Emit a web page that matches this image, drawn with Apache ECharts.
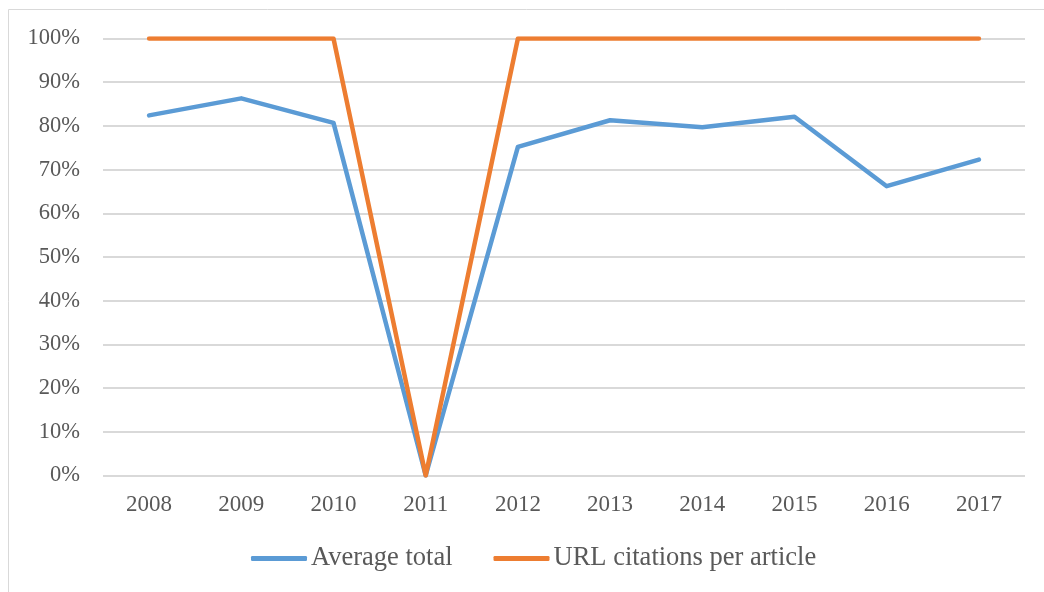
<!DOCTYPE html>
<html>
<head>
<meta charset="utf-8">
<script src="https://cdn.jsdelivr.net/npm/echarts@6/dist/echarts.min.js"></script>
<style>
  html, body { margin: 0; padding: 0; background: #fff; }
  #chart { width: 1044px; height: 592px; }
</style>
</head>
<body>
<div id="chart"></div>
<script>
// data
var years = ["2008", "2009", "2010", "2011", "2012", "2013", "2014", "2015", "2016", "2017"];
var averageTotal = [82.4, 86.3, 80.7, 0, 75.2, 81.3, 79.7, 82.1, 66.2, 72.3];
var urlCitations = [100, 100, 100, 0, 100, 100, 100, 100, 100, 100];

var textColor = "#595959";
var font = "Liberation Serif";

var chart = echarts.init(document.getElementById("chart"));
chart.setOption({
  animation: false,
  textStyle: { fontFamily: font },
  graphic: [
    {
      type: "rect",
      shape: { x: 8.5, y: 9.5, width: 1100, height: 700 },
      style: { fill: "none", stroke: "#d9d9d9", lineWidth: 1 },
      silent: true
    }
  ],
  grid: {
    left: 103,
    right: 19,
    top: 38.5,
    bottom: 116.5,
    containLabel: false
  },
  legend: {
    top: 540,
    left: 246,
    itemWidth: 56,
    itemHeight: 5,
    itemGap: 41,
    icon: "roundRect",
    textStyle: { color: textColor, fontSize: 26.5, fontFamily: font, padding: [0, 0, 0, -1] },
    data: ["Average total", "URL citations per article"]
  },
  xAxis: {
    type: "category",
    data: years,
    boundaryGap: true,
    axisLine: { show: false },
    axisTick: { show: false },
    axisLabel: { color: textColor, fontSize: 23, fontFamily: font, margin: 18 }
  },
  yAxis: {
    type: "value",
    min: 0,
    max: 100,
    interval: 10,
    axisLine: { show: false },
    axisTick: { show: false },
    axisLabel: {
      color: textColor,
      fontSize: 22.5,
      fontFamily: font,
      margin: 23,
      formatter: function (v) { return v + "%"; }
    },
    splitLine: { lineStyle: { color: "#d9d9d9", width: 2 } }
  },
  series: [
    {
      name: "Average total",
      type: "line",
      data: averageTotal,
      symbol: "none",
      itemStyle: { color: "#5b9bd5" },
      lineStyle: { color: "#5b9bd5", width: 4.5, cap: "round", join: "round" }
    },
    {
      name: "URL citations per article",
      type: "line",
      data: urlCitations,
      symbol: "none",
      itemStyle: { color: "#ed7d31" },
      lineStyle: { color: "#ed7d31", width: 4.5, cap: "round", join: "round" }
    }
  ]
});
</script>
</body>
</html>
